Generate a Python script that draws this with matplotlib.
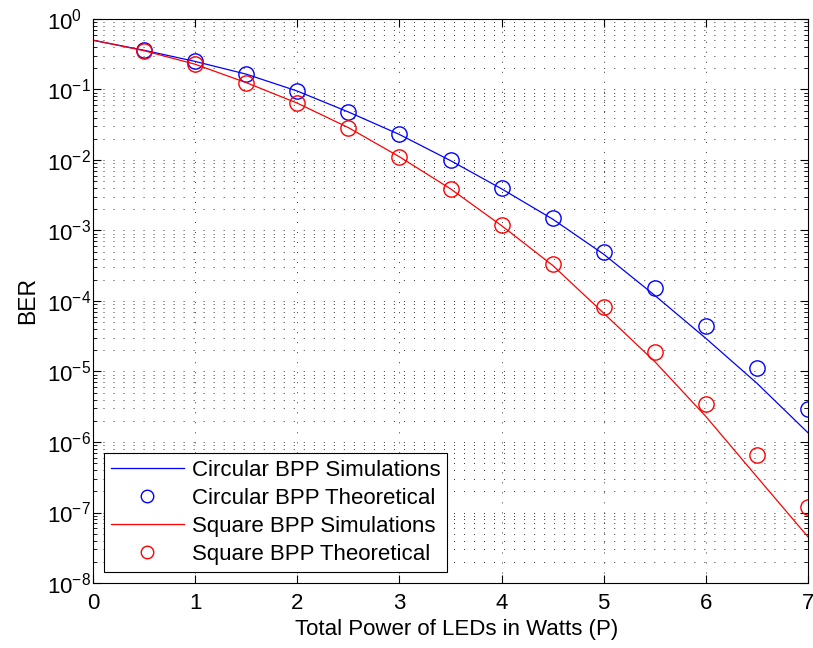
import matplotlib.pyplot as plt
import numpy as np
from matplotlib.ticker import LogLocator, MultipleLocator, NullFormatter

plt.rcParams['font.family'] = ['Liberation Sans', 'DejaVu Sans']
plt.rcParams['mathtext.fontset'] = 'custom'
plt.rcParams['mathtext.rm'] = 'Liberation Sans'

# --- Data ---
power_line = [0, 0.5, 1, 1.5, 2, 2.5, 3, 3.5, 4, 4.5, 5, 5.5, 6, 6.5, 7]
circ_sim = [0.5, 0.36, 0.25, 0.165, 0.095, 0.048, 0.023, 0.0098, 0.0039,
            1.45e-3, 4.6e-4, 1.2e-4, 2.95e-5, 6.8e-6, 1.35e-6]
square_sim = [0.5, 0.355, 0.228, 0.125, 0.064, 0.0288, 0.0111, 0.0039,
              1.17e-3, 3.2e-4, 6.7e-5, 1.38e-5, 2.3e-6, 3.2e-7, 4.5e-8]

power_pts = [0.5, 1, 1.5, 2, 2.5, 3, 3.5, 4, 4.5, 5, 5.5, 6, 6.5, 7]
circ_theory = [0.36, 0.25, 0.166, 0.095, 0.048, 0.0231, 0.0100, 0.0040,
               1.49e-3, 5.0e-4, 1.55e-4, 4.4e-5, 1.13e-5, 2.9e-6]
square_theory = [0.35, 0.228, 0.125, 0.064, 0.0288, 0.0111, 0.0039, 0.0012,
                 3.4e-4, 8.3e-5, 1.9e-5, 3.5e-6, 6.6e-7, 1.2e-7]

labels = ["Circular BPP Simulations", "Circular BPP Theoretical",
          "Square BPP Simulations", "Square BPP Theoretical"]
# ---------------------------------------

fig = plt.figure(figsize=(8.13, 6.48), dpi=100)
ax = fig.add_axes([0.1144, 0.1003, 0.8795, 0.8704])

ax.semilogy(power_line, circ_sim, '-', color='#0000ff', lw=0.9, label=labels[0])
ax.semilogy(power_pts, circ_theory, 'o', color='#0000ff', mfc='none',
            ms=11, mew=1.0, label=labels[1])
ax.semilogy(power_line, square_sim, '-', color='#ff0000', lw=0.9, label=labels[2])
ax.semilogy(power_pts, square_theory, 'o', color='#ff0000', mfc='none',
            ms=11, mew=1.0, label=labels[3])

ax.set_xlim(0, 7)
ax.set_ylim(1e-8, 1e0)
ax.xaxis.set_major_locator(MultipleLocator(1))
ax.set_yticks(10.0 ** np.arange(-8, 1))
ax.yaxis.set_minor_locator(LogLocator(base=10, subs=np.arange(2, 10), numticks=20))
ax.yaxis.set_minor_formatter(NullFormatter())
ax.set_ylim(1e-8, 1e0)

dots = (0, (1, 9.3))
ax.grid(True, which='major', axis='both', linestyle=dots, color='0.2', lw=0.7)
ax.grid(True, which='minor', axis='y', linestyle=dots, color='0.2', lw=0.7)

ax.tick_params(which='both', direction='in', top=True, right=True, labelsize=16)
ax.tick_params(which='major', length=6, width=0.8)
ax.tick_params(which='minor', length=3, width=0.6)
ax.tick_params(axis='y', which='major', pad=33)
ax.tick_params(axis='x', which='major', pad=7)
for lab in ax.get_yticklabels():
    lab.set_horizontalalignment('left')
for s in ax.spines.values():
    s.set_linewidth(0.8)

ax.set_xlabel("Total Power of LEDs in Watts (P)", fontsize=16)
ax.xaxis.set_label_coords(0.509, -0.063)
ax.set_ylabel("BER", fontsize=16.5, labelpad=6)

leg = ax.legend(loc='lower left', fontsize=16, fancybox=False, framealpha=1,
                edgecolor='black', borderaxespad=0.5, handlelength=3.3,
                handletextpad=0.35, labelspacing=0.32, borderpad=0.3)
leg.get_frame().set_linewidth(0.8)
for h in leg.legend_handles:
    h.set_markersize(9)

plt.savefig("out.png", dpi=100)
